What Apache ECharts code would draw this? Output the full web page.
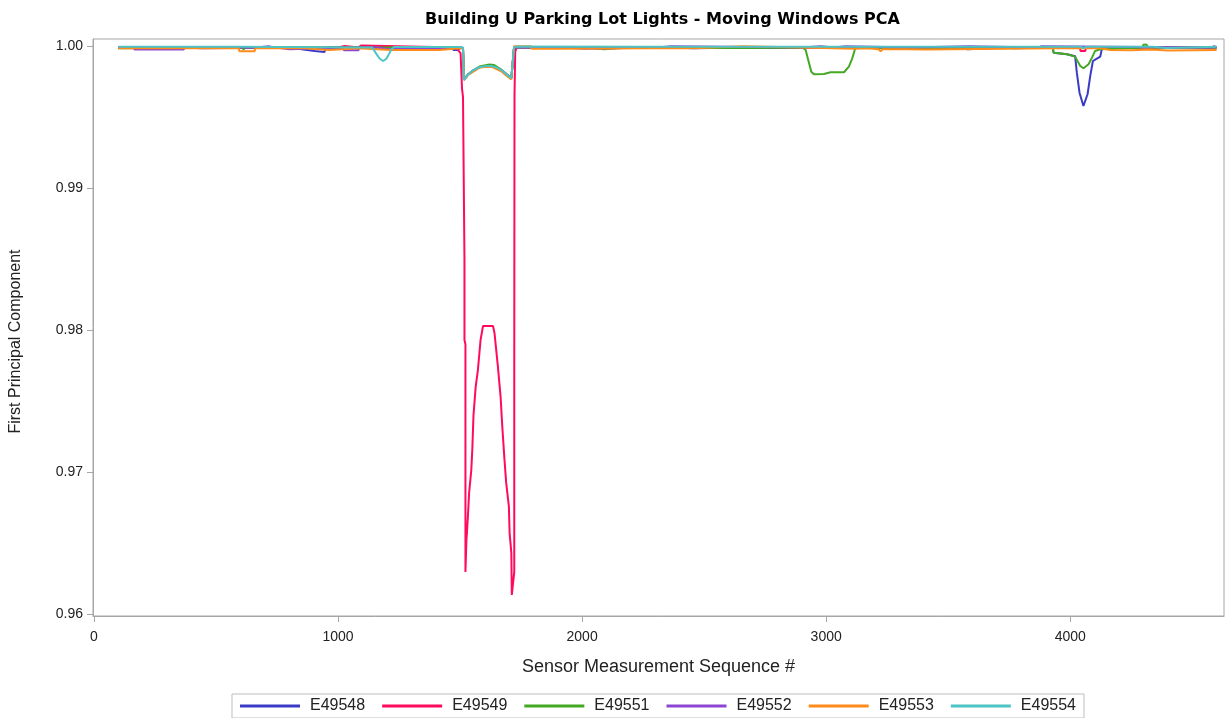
<!DOCTYPE html>
<html>
<head>
<meta charset="utf-8">
<title>Building U Parking Lot Lights - Moving Windows PCA</title>
<script src="https://cdn.jsdelivr.net/npm/echarts@6/dist/echarts.min.js"></script>
<style>
  html, body { margin: 0; padding: 0; background: #ffffff; }
  #chart { width: 1225px; height: 718px; }
</style>
</head>
<body>
<div id="chart"></div>
<script>
// Moving-window PCA: first principal component per sensor, [sequence #, value]
const seriesNames = ['E49548', 'E49549', 'E49551', 'E49552', 'E49553', 'E49554'];
const seriesColors = ['#3a3ac6', '#ff0a5c', '#43a922', '#8b45d2', '#ff8c1a', '#4ec4c4'];

const xTicks = [0, 1000, 2000, 3000, 4000];
const yTicks = [0.96, 0.97, 0.98, 0.99, 1.00];

const e49548 = [
  [100, 0.99990], [372, 0.99990], [374, 0.99984], [442, 0.99984], [446, 0.99990],
  [802, 0.99990], [804, 0.99977], [851, 0.99977], [853, 0.99965], [904, 0.99965],
  [906, 0.99958], [945, 0.99958], [948, 0.99990], [1470, 0.99990], [1472, 0.99972],
  [1493, 0.99972], [1500, 0.99988], [1512, 0.99985], [1516, 0.99762], [1532, 0.99797],
  [1555, 0.99830], [1579, 0.99850], [1605, 0.99857], [1628, 0.99858], [1650, 0.99847],
  [1669, 0.99830], [1690, 0.99800], [1710, 0.99773], [1717, 0.99762], [1721, 0.99985],
  [1730, 0.99990], [2376, 0.99990], [2378, 0.99984], [2458, 0.99984], [2460, 0.99990],
  [2663, 0.99990], [2665, 0.99984], [2671, 0.99984], [2673, 0.99990], [3530, 0.99990],
  [3532, 0.99977], [3579, 0.99977], [3581, 0.99990], [3747, 0.99990], [3749, 0.99984],
  [3767, 0.99984], [3769, 0.99990], [3928, 0.99990], [3932, 0.99953], [3987, 0.99942],
  [4020, 0.99928], [4027, 0.99812], [4038, 0.99671], [4054, 0.99577], [4071, 0.99660],
  [4082, 0.99789], [4093, 0.99894], [4109, 0.99911], [4123, 0.99925], [4130, 0.99984],
  [4140, 0.99990], [4600, 0.99990]
];

const e49549 = [
  [100, 0.99990], [1000, 0.99990], [1002, 1.00000], [1027, 1.00000], [1029, 0.99990],
  [1084, 0.99990], [1086, 1.00003], [1094, 1.00003], [1096, 0.99990], [1490, 0.99990],
  [1494, 0.99965], [1500, 0.99960], [1502, 0.99950], [1508, 0.99700], [1512, 0.99640],
  [1518, 0.98500], [1518, 0.97930], [1522, 0.97900], [1522, 0.96296], [1524, 0.96296],
  [1526, 0.96521], [1528, 0.96570], [1532, 0.96685], [1537, 0.96852], [1546, 0.97014],
  [1550, 0.97155], [1555, 0.97401], [1564, 0.97601], [1573, 0.97718], [1584, 0.97930],
  [1594, 0.98028], [1635, 0.98028], [1641, 0.97979], [1655, 0.97742], [1666, 0.97530],
  [1673, 0.97319], [1682, 0.97085], [1689, 0.96923], [1700, 0.96756], [1703, 0.96570],
  [1710, 0.96430], [1712, 0.96134], [1722, 0.96296], [1722, 0.97718], [1723, 0.99650],
  [1726, 0.99960], [1732, 0.99990], [4040, 0.99990], [4042, 0.99965], [4062, 0.99965],
  [4064, 0.99990], [4600, 0.99990]
];

const e49551 = [
  [100, 0.99984], [164, 0.99984], [166, 0.99990], [610, 0.99990], [613, 0.99972],
  [618, 0.99990], [863, 0.99990], [865, 0.99985], [871, 0.99985], [873, 0.99990],
  [1415, 0.99990], [1464, 0.99990], [1500, 0.99988], [1512, 0.99985], [1516, 0.99765],
  [1532, 0.99800], [1579, 0.99855], [1620, 0.99870], [1640, 0.99866], [1669, 0.99833],
  [1710, 0.99775], [1717, 0.99765], [1721, 0.99985], [1730, 0.99990], [2008, 0.99990],
  [2010, 0.99977], [2090, 0.99977], [2092, 0.99986], [2160, 0.99986], [2162, 0.99990],
  [2904, 0.99988], [2916, 0.99972], [2930, 0.99878], [2939, 0.99819], [2950, 0.99801],
  [2991, 0.99803], [3018, 0.99815], [3073, 0.99815], [3093, 0.99854], [3107, 0.99913],
  [3117, 0.99972], [3125, 0.99988], [3928, 0.99988], [3932, 0.99953], [3987, 0.99942],
  [4020, 0.99925], [4041, 0.99859], [4054, 0.99843], [4075, 0.99871], [4089, 0.99918],
  [4102, 0.99965], [4123, 0.99977], [4130, 0.99990], [4297, 0.99990], [4299, 1.00008],
  [4303, 0.99995], [4312, 1.00010], [4319, 0.99990], [4600, 0.99990]
];

const e49552 = [
  [100, 0.99990], [164, 0.99990], [166, 0.99975], [368, 0.99975], [370, 0.99990],
  [665, 0.99990], [667, 0.99998], [716, 0.99998], [718, 0.99990], [736, 0.99990],
  [738, 0.99977], [802, 0.99977], [804, 0.99990], [1022, 0.99990], [1024, 0.99970],
  [1084, 0.99970], [1086, 0.99990], [1157, 0.99990], [1159, 0.99977], [1211, 0.99977],
  [1213, 0.99990], [1500, 0.99990], [1512, 0.99985], [1516, 0.99762], [1532, 0.99797],
  [1579, 0.99850], [1628, 0.99858], [1669, 0.99830], [1710, 0.99773], [1717, 0.99762],
  [1721, 0.99985], [1730, 0.99990], [1926, 0.99990], [1928, 0.99981], [2008, 0.99981],
  [2010, 0.99990], [2311, 0.99990], [2313, 0.99998], [2364, 0.99998], [2366, 0.99990],
  [2904, 0.99990], [2906, 0.99998], [2978, 0.99998], [2980, 0.99990], [3031, 0.99990],
  [3033, 0.99998], [3080, 0.99998], [3082, 0.99990], [3346, 0.99990], [3348, 0.99998],
  [3583, 0.99998], [3585, 0.99990], [3872, 0.99990], [3874, 0.99998], [3882, 0.99998],
  [3884, 0.99990], [4580, 0.99990], [4582, 0.99998], [4590, 0.99998], [4592, 0.99990],
  [4600, 0.99990]
];

const e49553 = [
  [100, 0.99984], [593, 0.99984], [596, 0.99962], [658, 0.99962], [661, 0.99984],
  [863, 0.99984], [865, 0.99972], [965, 0.99972], [968, 0.99984], [1084, 0.99984],
  [1086, 0.99979], [1137, 0.99979], [1219, 0.99972], [1415, 0.99972], [1418, 0.99984],
  [1500, 0.99984], [1512, 0.99982], [1516, 0.99760], [1532, 0.99795], [1579, 0.99848],
  [1628, 0.99855], [1669, 0.99822], [1690, 0.99790], [1710, 0.99765], [1717, 0.99755],
  [1721, 0.99998], [1791, 0.99998], [1793, 0.99981], [1902, 0.99981], [1904, 0.99984],
  [2282, 0.99984], [2458, 0.99984], [2460, 0.99998], [2663, 0.99998], [2665, 0.99986],
  [2986, 0.99986], [2988, 0.99980], [3112, 0.99980], [3114, 0.99984], [3170, 0.99984],
  [3172, 0.99977], [3215, 0.99977], [3223, 0.99962], [3231, 0.99977], [3333, 0.99977],
  [3335, 0.99975], [3407, 0.99975], [3409, 0.99984], [3939, 0.99984], [4123, 0.99984],
  [4164, 0.99972], [4250, 0.99970], [4255, 0.99975], [4330, 0.99975], [4335, 0.99968],
  [4400, 0.99968], [4405, 0.99972], [4600, 0.99972]
];

const e49554 = [
  [100, 0.99994], [590, 0.99994], [593, 0.99989], [1140, 0.99989], [1146, 0.99985],
  [1157, 0.99944], [1171, 0.99910], [1185, 0.99894], [1197, 0.99908], [1205, 0.99930],
  [1213, 0.99958], [1219, 0.99975], [1228, 0.99992], [1500, 0.99993], [1512, 0.99988],
  [1516, 0.99761], [1532, 0.99796], [1555, 0.99830], [1579, 0.99850], [1605, 0.99858],
  [1628, 0.99859], [1650, 0.99848], [1669, 0.99831], [1690, 0.99800], [1710, 0.99773],
  [1717, 0.99761], [1721, 0.99990], [1730, 0.99996], [2300, 0.99995], [4045, 0.99994],
  [4054, 0.99982], [4063, 0.99994], [4337, 0.99994], [4340, 0.99986], [4395, 0.99986],
  [4398, 0.99994], [4600, 0.99994]
];

const seriesData = [e49548, e49549, e49551, e49552, e49553, e49554];

const axisGray = '#a6a6a6';
const textFont = 'Liberation Sans';

const chart = echarts.init(document.getElementById('chart'), null, { renderer: 'canvas' });

chart.setOption({
  animation: false,
  backgroundColor: '#ffffff',
  title: {
    text: 'Building U Parking Lot Lights - Moving Windows PCA',
    left: 657.5,
    textAlign: 'center',
    top: 7,
    textStyle: { fontFamily: 'DejaVu Sans', fontWeight: 'bold', fontSize: 16, color: '#000000' }
  },
  grid: {
    left: 91, right: 1, top: 39, bottom: 102,
    show: true, borderColor: axisGray, borderWidth: 1, backgroundColor: 'transparent'
  },
  legend: {
    data: seriesNames,
    left: 232, top: 694,
    padding: [4, 8, 4, 8],
    borderColor: '#bdbdbd', borderWidth: 1,
    itemWidth: 60, itemHeight: 3, itemGap: 17,
    icon: 'rect',
    textStyle: { fontFamily: textFont, fontSize: 16, color: '#222222', padding: [0, 0, 0, 5] }
  },
  xAxis: {
    type: 'value',
    min: -4, max: 4630,
    name: 'Sensor Measurement Sequence #',
    nameLocation: 'middle', nameGap: 42,
    nameTextStyle: { fontFamily: textFont, fontSize: 18, color: '#222222' },
    axisLine: { show: true, onZero: false, lineStyle: { color: axisGray } },
    axisTick: { show: true, length: 6, lineStyle: { color: axisGray }, customValues: xTicks },
    axisLabel: {
      fontFamily: textFont, fontSize: 14, color: '#222222', margin: 14,
      customValues: xTicks,
      formatter: v => String(v)
    },
    splitLine: { show: false }
  },
  yAxis: {
    type: 'value',
    min: 0.95986, max: 1.00049,
    name: 'First Principal Component',
    nameLocation: 'middle', nameGap: 69,
    nameTextStyle: { fontFamily: textFont, fontSize: 16, color: '#222222', padding: [0, 28, 0, 0] },
    axisLine: { show: true, onZero: false, lineStyle: { color: axisGray } },
    axisTick: { show: true, length: 6, lineStyle: { color: axisGray }, customValues: yTicks },
    axisLabel: {
      fontFamily: textFont, fontSize: 14, color: '#222222', margin: 10,
      customValues: yTicks,
      formatter: v => v.toFixed(2)
    },
    splitLine: { show: false }
  },
  series: seriesNames.map((name, i) => ({
    name: name,
    type: 'line',
    data: seriesData[i],
    showSymbol: false,
    symbol: 'none',
    color: seriesColors[i],
    lineStyle: { width: 2, color: seriesColors[i] },
    emphasis: { disabled: true }
  }))
});
</script>
</body>
</html>
